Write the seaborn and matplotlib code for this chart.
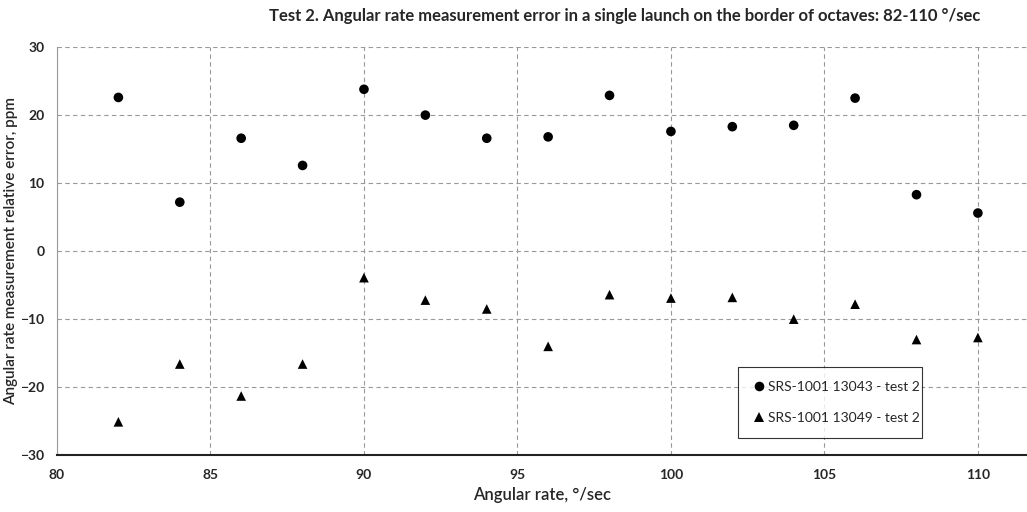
import pandas as pd
import seaborn as sns
from matplotlib import pyplot as plt

# Angular rate points, deg/sec
rates = [82, 84, 86, 88, 90, 92, 94, 96, 98, 100, 102, 104, 106, 108, 110]

# Relative error, ppm
err_13043 = [22.6, 7.2, 16.6, 12.6, 23.8, 20.0, 16.6, 16.8, 22.9, 17.6, 18.3, 18.5, 22.5, 8.3, 5.6]
err_13049 = [-25.1, -16.6, -21.3, -16.6, -3.9, -7.2, -8.5, -14.0, -6.4, -6.9, -6.8, -10.0, -7.8, -13.0, -12.7]

label_a = 'SRS-1001 13043 - test 2'
label_b = 'SRS-1001 13049 - test 2'

df = pd.DataFrame({
    'rate': rates + rates,
    'error': err_13043 + err_13049,
    'series': [label_a] * len(rates) + [label_b] * len(rates),
})

sns.set_style('white')
plt.rcParams['font.family'] = ['Lato', 'DejaVu Sans']

fig = plt.figure(figsize=(10.27, 5.12), dpi=100)
ax = fig.add_axes([0.0555, 0.111, 0.9445, 0.797])

sns.scatterplot(data=df, x='rate', y='error', style='series',
                markers={label_a: 'o', label_b: '^'},
                color='black', s=48, edgecolor='black', linewidth=0, ax=ax)

ax.set_xlim(80, 111.6)
ax.set_ylim(-30, 30)
ax.set_xticks(range(80, 111, 5))
ax.set_yticks(range(-30, 31, 10))
ax.grid(True, linestyle=(0, (4, 3)), color='#999999', linewidth=0.8)

for side in ['top', 'right']:
    ax.spines[side].set_visible(False)
ax.spines['left'].set_color('#999999')
ax.spines['bottom'].set_color('#222222')
ax.spines['bottom'].set_linewidth(1.5)

ax.tick_params(axis='y', direction='out', length=5, color='#999999', labelsize=10, pad=4)
ax.tick_params(axis='x', direction='in', length=5, color='#222222', labelsize=10, pad=10)
for t in ax.get_yticklabels():
    t.set_fontweight('bold')
for t in ax.get_xticklabels():
    t.set_fontweight('bold')

ax.set_xlabel('Angular rate, \u00b0/sec', fontsize=12, fontweight='semibold', labelpad=4)
ax.set_ylabel('Angular rate measurement relative error, ppm', fontsize=11,
              fontweight='semibold', labelpad=4)
ax.yaxis.set_label_coords(-0.04, 0.5)
fig.suptitle('Test 2. Angular rate measurement error in a single launch on the border of octaves: 82-110 \u00b0/sec',
             x=0.608, y=0.985, fontsize=12, fontweight='bold')

leg = ax.legend(loc='lower left', bbox_to_anchor=(0.702, 0.042, 0.19, 0.183),
                mode='expand', frameon=True, fancybox=False, edgecolor='black',
                fontsize=10, handletextpad=0.2, handlelength=1.0, labelspacing=1.4,
                borderpad=1.0, borderaxespad=0, markerscale=1.0)
leg.get_frame().set_linewidth(0.8)

fig.savefig('out.png', dpi=100)
